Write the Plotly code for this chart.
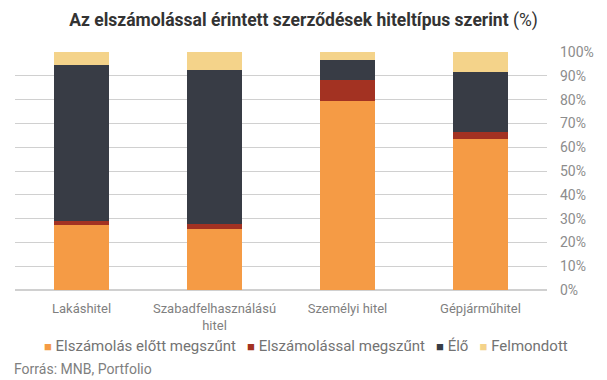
import plotly.graph_objects as go

categories = ["Lakáshitel", "Szabadfelhasználású<br>hitel", "Személyi hitel", "Gépjárműhitel"]
series_names = ["Elszámolás előtt megszűnt", "Elszámolással megszűnt", "Élő", "Felmondott"]
elszamolas_elott = [27.5, 25.7, 79.4, 63.3]
elszamolassal = [1.3, 2.2, 8.7, 3.0]
elo = [65.7, 64.5, 8.7, 25.2]
felmondott = [5.5, 7.6, 3.2, 8.5]
y_ticks = [0, 10, 20, 30, 40, 50, 60, 70, 80, 90, 100]
y_tick_labels = [f"{v}%" for v in y_ticks]

colors = ["#F59B45", "#A33222", "#383C45", "#F4D38A"]
values = [elszamolas_elott, elszamolassal, elo, felmondott]

fig = go.Figure()
for name, vals, col in zip(series_names, values, colors):
    fig.add_trace(go.Bar(x=categories, y=vals, name=name, marker=dict(color=col, line=dict(width=0)),
                         showlegend=False))

legend_html = "   ".join(
    f'<span style="color:{c};font-size:13px">■</span> {n}' for n, c in zip(series_names, colors)
)

fig.update_layout(
    width=607, height=380,
    margin=dict(l=15, r=60, t=52, b=90),
    paper_bgcolor="white", plot_bgcolor="white",
    barmode="stack", bargap=0.59,
    font=dict(family="Roboto, sans-serif", color="#7f7f7f"),
    title=dict(text="<b>Az elszámolással érintett szerződések hiteltípus szerint</b> (%)",
               x=0.5, xanchor="center", y=0.948, yanchor="middle",
               font=dict(family="Roboto, sans-serif", size=17.5, color="#333333")),
    xaxis=dict(showgrid=False, showline=False, ticks="", ticklabelstandoff=9,
               tickfont=dict(size=13, color="#7f7f7f")),
    yaxis=dict(side="right", range=[0, 100], tickmode="array", tickvals=y_ticks, ticktext=y_tick_labels,
               showgrid=True, gridcolor="#D0D0D0", gridwidth=1, zeroline=True, zerolinecolor="#D0D0D0",
               ticks="", ticklabelstandoff=12, tickfont=dict(size=14, color="#8c8c8c")),
    annotations=[
        dict(text=legend_html, xref="paper", yref="paper", x=0.0508, y=-0.235,
             xanchor="left", yanchor="middle", showarrow=False,
             font=dict(size=15, color="#737373")),
        dict(text="Forrás: MNB, Portfolio", xref="paper", yref="paper", x=-0.0064, y=-0.332,
             xanchor="left", yanchor="middle", showarrow=False,
             font=dict(size=14, color="#808080")),
    ],
)

fig.write_html("out.html", config={"displayModeBar": False},
               post_script="document.body.style.margin='0';")
